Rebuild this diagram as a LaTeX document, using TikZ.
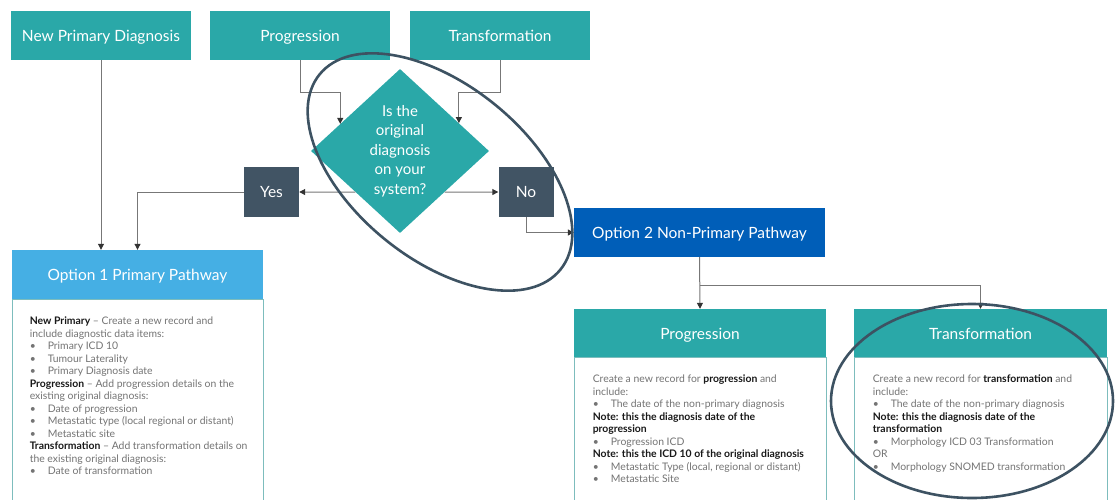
\documentclass[tikz,border=0pt]{standalone}
\usepackage{fontspec}
\setmainfont{Lato}
\usetikzlibrary{shapes.geometric,arrows.meta,calc}

\definecolor{tealbox}{HTML}{2AA8A8}
\definecolor{slatebox}{HTML}{415464}
\definecolor{skybox}{HTML}{45AFE4}
\definecolor{bluebox}{HTML}{005EB8}
\definecolor{ringcol}{HTML}{3D5262}
\definecolor{linecol}{HTML}{777777}
\definecolor{tipcol}{HTML}{333333}
\definecolor{bodygray}{HTML}{747474}
\definecolor{edgecol}{HTML}{7DBDBD}

\newcommand{\kw}[1]{\textcolor{black!90}{\textbf{#1}}}
\newcommand{\bul}{\makebox[18pt][l]{\textbullet}}

\tikzset{
  head/.style={fill=tealbox, text=white, inner sep=0, minimum width=180, minimum height=49,
    text height=12.6pt, text depth=0pt, font=\fontsize{15.5}{18}\selectfont},
  answer/.style={fill=slatebox, text=white, inner sep=0, minimum width=55, minimum height=50,
    text height=11.5pt, text depth=0pt, font=\fontsize{15.5}{18}\selectfont},
  question/.style={diamond, fill=tealbox, text=white, inner sep=0, minimum width=178, minimum height=164,
    align=center, font=\fontsize{15}{19.6}\selectfont},
  bodybox/.style={draw=edgecol, line width=0.8pt, fill=white, inner sep=0, minimum width=251,
    minimum height=260, anchor=north},
  bodytext/.style={anchor=north west, inner sep=0, align=left, text=bodygray,
    font=\fontsize{10.4}{12.5}\selectfont},
  conn/.style={draw=linecol, line width=1pt, -{Triangle[length=6pt,width=6pt,color=tipcol]}},
  ring/.style={draw=ringcol, line width=2.6pt},
}

\begin{document}
\begin{tikzpicture}[x=1pt, y=-1pt]
  \useasboundingbox (0,0) rectangle (1118,499);
  \clip (0,0) rectangle (1118,499);

  % top row
  \node[head] (npd) at (101,35.5) {New Primary Diagnosis};
  \node[head] (prog) at (300,35.5) {Progression};
  \node[head] (trans) at (500,35.5) {Transformation};

  % question and answers
  \node[question] (q) at (400,151) {Is the\\original\\diagnosis\\on your\\system?};
  \node[answer] (yes) at (271.5,192) {Yes};
  \node[answer] (no) at (526,192) {No};

  % option 1
  \node[bodybox] (opt1b) at (137.5,299) {};
  \node[head, fill=skybox, minimum width=251] (opt1) at (137.5,274.5) {Option 1 Primary Pathway};
  \node[bodytext] (opt1t) at ($(opt1b.north west)+(18,18)$) {%
    \kw{New Primary} -- Create a new record and\\
    include diagnostic data items:\\
    \bul Primary ICD 10\\
    \bul Tumour Laterality\\
    \bul Primary Diagnosis date\\
    \kw{Progression} -- Add progression details on the\\
    existing original diagnosis:\\
    \bul Date of progression\\
    \bul Metastatic type (local regional or distant)\\
    \bul Metastatic site\\
    \kw{Transformation} -- Add transformation details on\\
    the existing original diagnosis:\\
    \bul Date of transformation};

  % option 2
  \node[head, fill=bluebox, minimum width=251] (opt2) at (699.5,232.5) {Option 2 Non-Primary Pathway};
  \node[bodybox, minimum width=252] (progb) at (700,357) {};
  \node[head, minimum width=252, minimum height=48] (progh) at (700,333) {Progression};
  \node[bodytext] (progt) at ($(progb.north west)+(19,18)$) {%
    Create a new record for \kw{progression} and\\
    include:\\
    \bul The date of the non-primary diagnosis\\
    \kw{Note: this the diagnosis date of the}\\
    \kw{progression}\\
    \bul Progression ICD\\
    \kw{Note: this the ICD 10 of the original diagnosis}\\
    \bul Metastatic Type (local, regional or distant)\\
    \bul Metastatic Site};
  \node[bodybox, minimum width=253] (transb) at (980.5,357) {};
  \node[head, minimum width=253, minimum height=48] (transh) at (980.5,333) {Transformation};
  \node[bodytext] (transt) at ($(transb.north west)+(19,18)$) {%
    Create a new record for \kw{transformation} and\\
    include:\\
    \bul The date of the non-primary diagnosis\\
    \kw{Note: this the diagnosis date of the}\\
    \kw{transformation}\\
    \bul Morphology ICD 03 Transformation\\
    OR\\
    \bul Morphology SNOMED transformation};

  % connectors
  \coordinate (qin1) at ($(q.west)!0.33!(q.north)$);
  \coordinate (qin2) at ($(q.east)!0.34!(q.north)$);
  \draw[conn] (npd.south) -- (npd.south |- opt1.north);
  \draw[conn] (prog.south) -- ++(0,32) -| (qin1);
  \draw[conn] (trans.south) -- ++(0,32) -| (qin2);
  \draw[conn] (q.south west) -- (yes.east);
  \draw[conn] (q.south east) -- (no.west);
  \draw[conn] (yes.west) -| (opt1.north);
  \draw[conn] (no.south) |- (opt2.west);
  \draw[conn] (opt2.south) -- (progh.north);
  \draw[conn] (opt2.south) ++(0,28) -| (transh.north);

  % highlight rings
  \draw[ring, rotate around={-39:(440,172)}] (440,172) ellipse [x radius=155, y radius=87];
  \draw[ring] (972,401) ellipse [x radius=141, y radius=97];
\end{tikzpicture}
\end{document}
